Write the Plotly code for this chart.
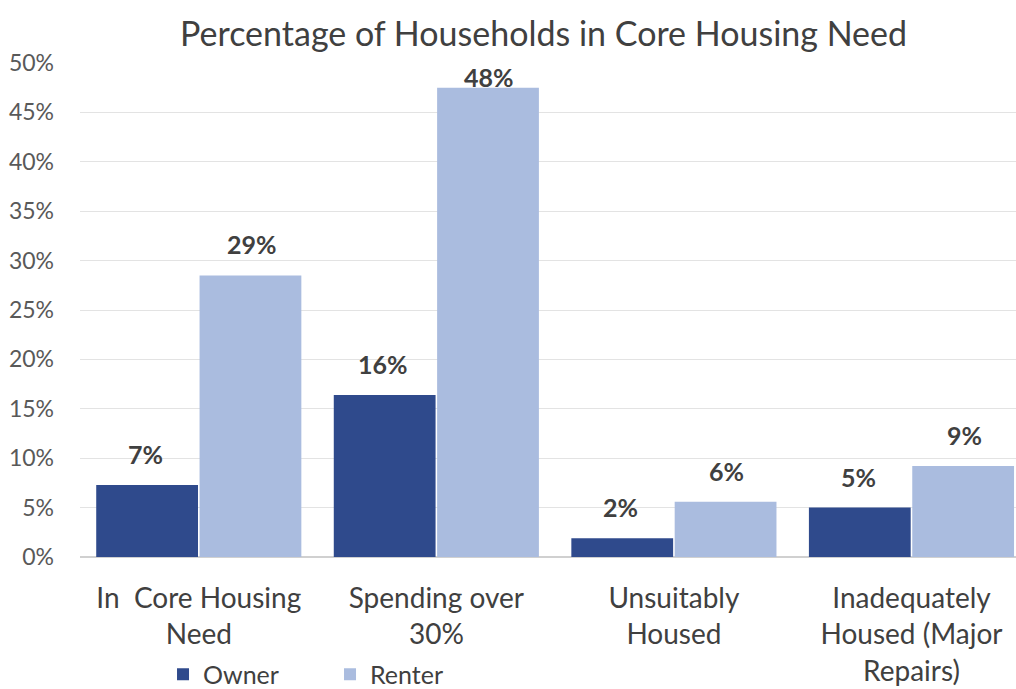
import plotly.graph_objects as go

categories = ["In  Core Housing<br>Need", "Spending over<br>30%", "Unsuitably<br>Housed",
              "Inadequately<br>Housed (Major<br>Repairs)"]
owner = [0.073, 0.164, 0.019, 0.050]
renter = [0.285, 0.475, 0.056, 0.092]
owner_labels = ["7%", "16%", "2%", "5%"]
renter_labels = ["29%", "48%", "6%", "9%"]
y_ticks = [0, 0.05, 0.10, 0.15, 0.20, 0.25, 0.30, 0.35, 0.40, 0.45, 0.50]
y_tick_labels = ["0%", "5%", "10%", "15%", "20%", "25%", "30%", "35%", "40%", "45%", "50%"]

FONT = "Lato, Carlito, Calibri, sans-serif"
OWNER_COLOR = "#2f4a8c"
RENTER_COLOR = "#aabcdf"

fig = go.Figure()
fig.add_trace(go.Bar(name="Owner", x=categories, y=owner,
                     marker=dict(color=OWNER_COLOR, line=dict(width=0))))
fig.add_trace(go.Bar(name="Renter", x=categories, y=renter,
                     marker=dict(color=RENTER_COLOR, line=dict(width=0))))

# data labels above bars
annotations = []
for series, labels, xshift in ((owner, owner_labels, -53), (renter, renter_labels, 53)):
    for cat, val, lab in zip(categories, series, labels):
        annotations.append(dict(
            x=cat, y=val, xref="x", yref="y", text="<b>%s</b>" % lab, showarrow=False,
            xshift=xshift, yshift=(11 if val > 0.45 else 31), yanchor="middle",
            font=dict(size=25, color="#404040", family=FONT)))

fig.update_layout(
    width=1016, height=689,
    margin=dict(l=80, r=0, t=63, b=132, autoexpand=False),
    paper_bgcolor="white", plot_bgcolor="white",
    font=dict(family=FONT, color="#404040"),
    title=dict(text="Percentage of Households in Core Housing Need", x=0.535, xanchor="center",
               y=0.951, yanchor="middle", font=dict(size=34, color="#404040", family=FONT)),
    barmode="group", bargap=0.13, bargroupgap=0.015,
    showlegend=True,
    legend=dict(orientation="h", x=0.0887, xanchor="left", y=-0.238, yanchor="middle",
                font=dict(size=25, color="#404040", family=FONT), itemwidth=30,
                entrywidth=122, entrywidthmode="pixels", traceorder="normal"),
    annotations=annotations,
)
fig.update_xaxes(range=[-0.5, 3.44], showgrid=False, showline=False, ticks="",
                 tickfont=dict(size=28, color="#404040", family=FONT), ticklabelstandoff=22)
fig.update_yaxes(range=[0, 0.5], tickvals=y_ticks, ticktext=y_tick_labels,
                 showgrid=True, gridcolor="#e3e3e3", gridwidth=1, zeroline=True,
                 zerolinecolor="#d0d0d0", showline=False, ticks="",
                 tickfont=dict(size=23, color="#595959", family=FONT), ticklabelstandoff=25)

fig.write_html("out.html", config={"displayModeBar": False},
               post_script="document.body.style.margin='0';document.body.style.overflow='hidden';")
